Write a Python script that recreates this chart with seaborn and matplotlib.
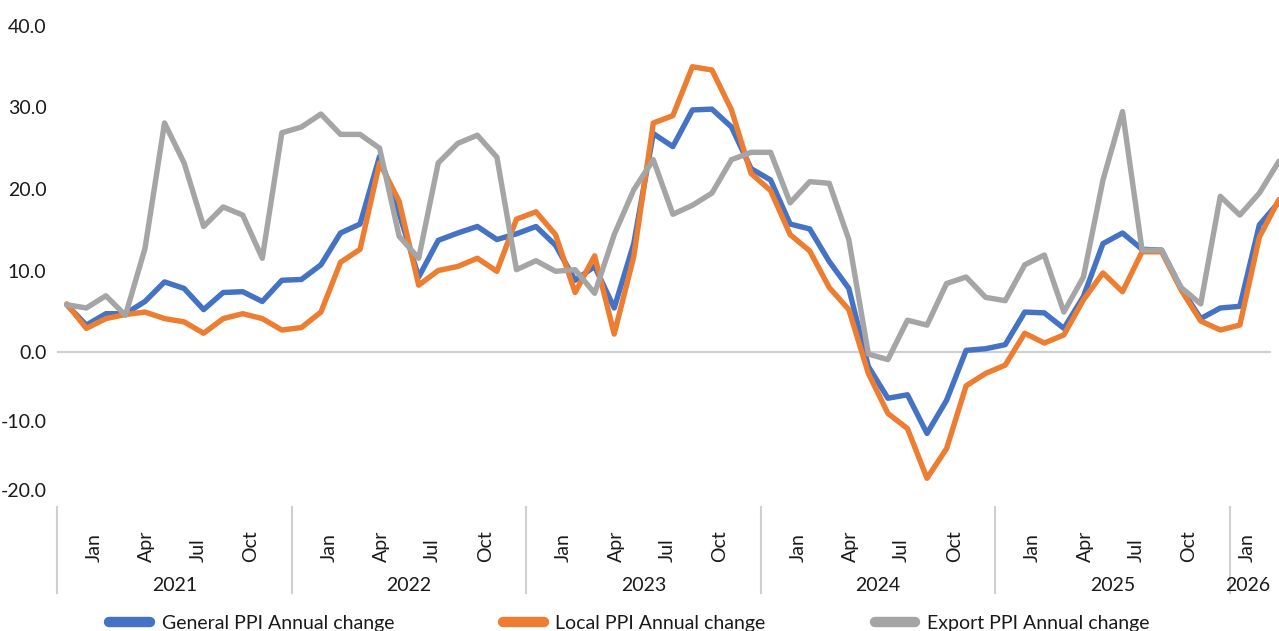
#PPI annual change chart, Jan 2021 - Mar 2026
import numpy as np
import pandas as pd
import seaborn as sb
import matplotlib.pyplot as plt
from matplotlib.lines import Line2D

sb.set_style('white')
plt.rcParams['font.family'] = ['Lato', 'DejaVu Sans']

#monthly values
general = [5.8, 3.3, 4.7, 4.7, 6.2, 8.6, 7.8, 5.2, 7.3, 7.4, 6.2, 8.8,
           8.9, 10.7, 14.6, 15.7, 24.0, 17.0, 9.2, 13.7, 14.6, 15.4, 13.8, 14.5,
           15.4, 13.1, 8.8, 10.5, 5.4, 13.3, 26.8, 25.2, 29.7, 29.8, 27.6, 22.5,
           21.1, 15.7, 15.1, 11.1, 7.8, -2.1, -6.7, -6.2, -11.8, -7.0, 0.2, 0.4,
           0.9, 4.9, 4.8, 2.9, 6.8, 13.3, 14.6, 12.6, 12.5, 7.8, 4.1, 5.4,
           5.6, 15.6, 18.4]
local = [5.9, 2.9, 4.1, 4.6, 4.9, 4.1, 3.7, 2.3, 4.1, 4.7, 4.1, 2.7,
         3.0, 4.9, 11.0, 12.6, 23.2, 18.5, 8.2, 10.0, 10.5, 11.5, 9.9, 16.3,
         17.2, 14.4, 7.3, 11.8, 2.2, 11.7, 28.1, 29.0, 35.0, 34.6, 29.7, 21.9,
         19.8, 14.4, 12.4, 7.9, 5.2, -3.1, -8.9, -11.1, -18.3, -14.0, -4.9, -3.1,
         -1.9, 2.3, 1.1, 2.1, 6.4, 9.7, 7.4, 12.3, 12.3, 7.6, 3.8, 2.7,
         3.3, 14.1, 18.7]
export = [5.8, 5.4, 6.9, 4.5, 12.7, 28.1, 23.2, 15.4, 17.8, 16.8, 11.5, 26.9,
          27.6, 29.2, 26.7, 26.7, 25.0, 14.2, 11.5, 23.2, 25.6, 26.6, 23.9, 10.1,
          11.2, 9.9, 10.1, 7.2, 14.4, 19.9, 23.6, 16.9, 18.0, 19.5, 23.6, 24.5,
          24.5, 18.3, 20.9, 20.7, 13.8, -0.3, -1.1, 3.9, 3.3, 8.4, 9.2, 6.7,
          6.3, 10.7, 11.9, 4.9, 9.2, 21.1, 29.5, 12.5, 12.5, 7.9, 5.9, 19.1,
          16.8, 19.5, 23.4]

series_names = ['General PPI Annual change', 'Local PPI Annual change', 'Export PPI Annual change']
colors = ['#4472C4', '#ED7D31', '#A5A5A5']
years = ['2021', '2022', '2023', '2024', '2025', '2026']
month_labels = ['Jan', 'Apr', 'Jul', 'Oct']
month_offsets = [1.4, 4.1, 6.7, 9.4]
y_ticks = [-20, -10, 0, 10, 20, 30, 40]

df = pd.DataFrame({'n': range(len(general)),
                   series_names[0]: general,
                   series_names[1]: local,
                   series_names[2]: export})
df = df.melt(id_vars='n', var_name='series', value_name='value')

fig = plt.figure(figsize=(12.79, 6.31), dpi=100)
ax = fig.add_axes([57/1279, 141/631, 1231.7/1279, 464/631])

#the source squeezes the part below zero
neg = 6.9/8.15
def fwd(v):
    v = np.asarray(v, dtype=float)
    return np.where(v < 0, v*neg, v)
def inv(v):
    v = np.asarray(v, dtype=float)
    return np.where(v < 0, v/neg, v)

sb.lineplot(data=df, x='n', y='value', hue='series', hue_order=series_names,
            palette=colors, linewidth=3.9, legend=False, ax=ax,
            solid_joinstyle='round')
ax.set_yscale('function', functions=(fwd, inv))
ax.set_xlim(-0.5, 62.5)
ax.set_ylim(-20, 40)

ax.axhline(0, xmax=0.985, color='#d0d0d0', lw=1.6, zorder=0)

for s in ax.spines.values():
    s.set_visible(False)
ax.set_xticks([])
ax.set_yticks(y_ticks)
ax.set_yticklabels([f'{v:.1f}' for v in y_ticks])
ax.tick_params(axis='y', left=False, pad=4, labelsize=14, labelcolor='#1a1a1a')
ax.set_xlabel('')
ax.set_ylabel('')

#two level category axis
trans = ax.get_xaxis_transform()
bounds = [12*i - 0.5 for i in range(len(years))] + [62.4]
ax.vlines(bounds, -0.0345, -0.224, transform=trans, clip_on=False, color='#d0d0d0', lw=1.5)
for i, yr in enumerate(years):
    if i < 5:
        for off, lab in zip(month_offsets, month_labels):
            ax.text(12*i + off, -0.155, lab, transform=trans, rotation=90,
                    ha='center', va='bottom', fontsize=14, color='#1a1a1a')
        xc = 12*i + 5.5
    else:
        ax.text(12*i + 0.4, -0.155, 'Jan', transform=trans, rotation=90,
                ha='center', va='bottom', fontsize=14, color='#1a1a1a')
        xc = 12*i + 0.4
    ax.text(xc, -0.205, yr, transform=trans, ha='center', va='center',
            fontsize=14, color='#1a1a1a')

handles = [Line2D([0], [0], color=c, lw=7.5, solid_capstyle='round') for c in colors]
fig.legend(handles, series_names, loc='center', bbox_to_anchor=(0.492, 0.012), ncol=3,
           frameon=False, fontsize=14, handlelength=2.1, handletextpad=0.6,
           columnspacing=5.6, labelcolor='#1a1a1a')

fig.savefig('out.png', dpi=100)
